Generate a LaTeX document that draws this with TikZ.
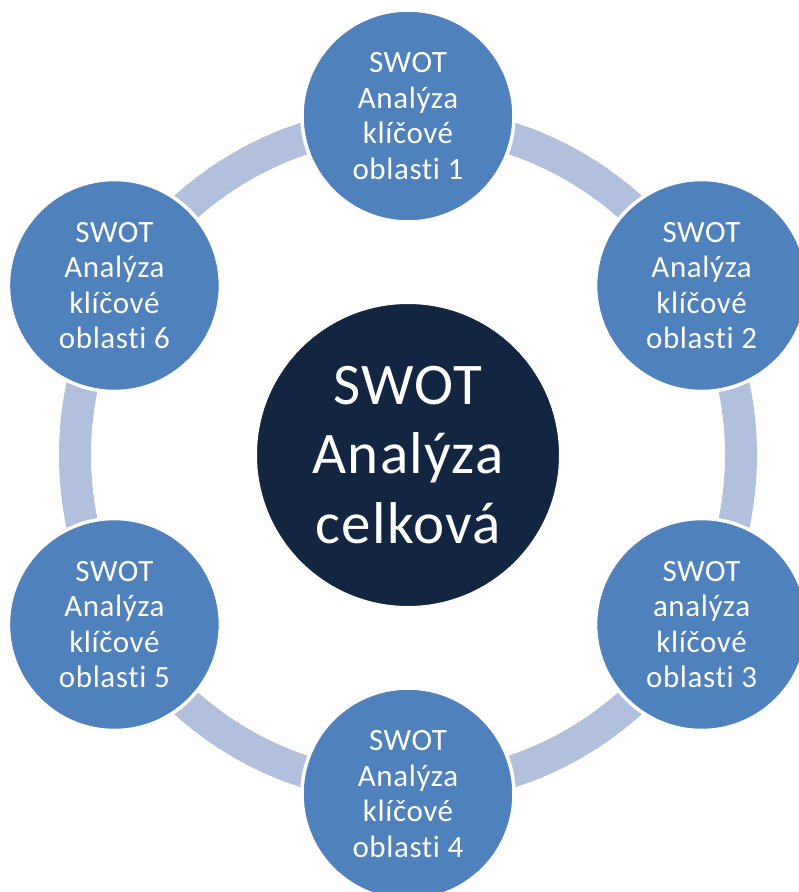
\documentclass[tikz,border=0pt]{standalone}
\usepackage{fontspec}
\setmainfont{Carlito}[LetterSpace=2,Ligatures=NoCommon]
\definecolor{outerblue}{RGB}{79,129,189}
\definecolor{navy}{RGB}{18,38,65}
\definecolor{ringblue}{RGB}{177,193,221}
\begin{document}
\begin{tikzpicture}[x=1pt,y=-1pt,
  outer/.style={circle,minimum size=212pt,inner sep=0pt,fill=outerblue,draw=white,line width=3.5pt,
    text=white,align=center,font=\fontsize{31}{35.5}\selectfont},
  inner/.style={circle,minimum size=304pt,inner sep=0pt,fill=navy,draw=white,line width=2pt,
    text=white,align=center,font=\fontsize{59}{69.5}\selectfont},
  ring/.style={draw=ringblue,line width=32pt}]
\useasboundingbox (0,0) rectangle (799,892);
\clip (0,0) rectangle (799,892);
\coordinate (m) at (408,455);
\draw[ring] (m) circle[radius=333];
\node[inner] (c0) at (m) {SWOT\\Analýza\\celková};
\node[outer] (c1) at (408,116) {SWOT\\Analýza\\klíčové\\oblasti 1};
\node[outer] (c2) at (701.6,285.5) {SWOT\\Analýza\\klíčové\\oblasti 2};
\node[outer] (c3) at (701.6,624.5) {SWOT\\analýza\\klíčové\\oblasti 3};
\node[outer] (c4) at (408,794) {SWOT\\Analýza\\klíčové\\oblasti 4};
\node[outer] (c5) at (114.4,624.5) {SWOT\\Analýza\\klíčové\\oblasti 5};
\node[outer] (c6) at (114.4,285.5) {SWOT\\Analýza\\klíčové\\oblasti 6};
\end{tikzpicture}
\end{document}
